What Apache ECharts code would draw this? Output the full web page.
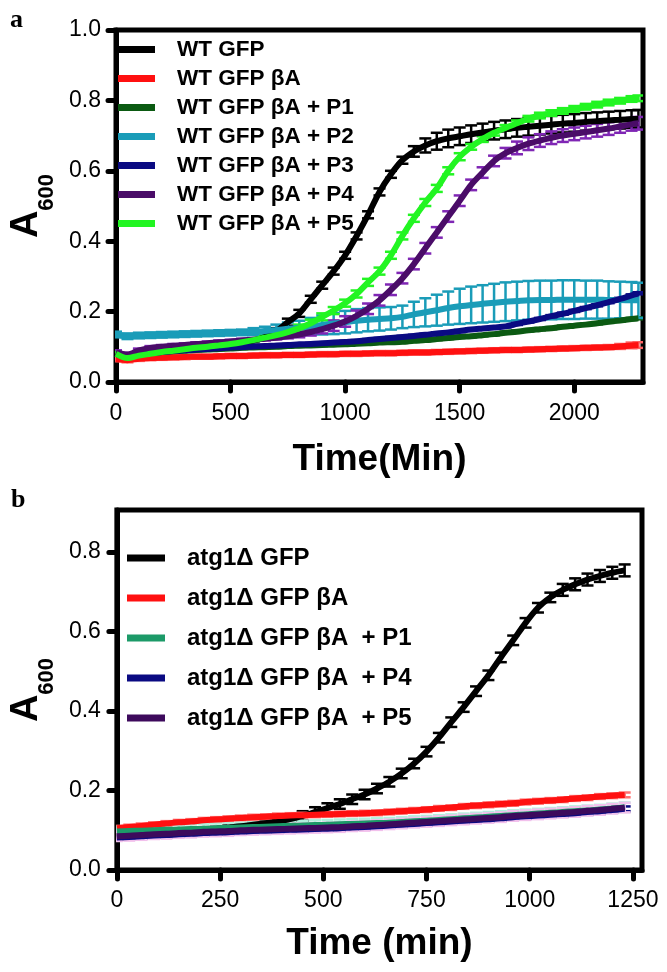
<!DOCTYPE html>
<html>
<head>
<meta charset="utf-8">
<script src="https://cdn.jsdelivr.net/npm/echarts@6/dist/echarts.min.js"></script>
<style>
html,body{margin:0;padding:0;background:#fff;}
#chart{width:667px;height:972px;}
</style>
</head>
<body>
<div id="chart"></div>
<script>
// ---------- Panel a data ----------
const timeA = [0,50,100,150,200,250,300,350,400,450,500,550,600,650,700,750,800,850,900,950,1000,1050,1100,1150,1200,1250,1300,1350,1400,1450,1500,1550,1600,1650,1700,1750,1800,1850,1900,1950,2000,2050,2100,2150,2200,2250,2280];
const namesA = ['WT GFP','WT GFP βA','WT GFP βA + P1','WT GFP βA + P2','WT GFP βA + P3','WT GFP βA + P4','WT GFP βA + P5'];
const wtGFP = [0.080,0.075,0.080,0.085,0.090,0.093,0.096,0.099,0.102,0.105,0.108,0.112,0.118,0.128,0.145,0.170,0.195,0.235,0.275,0.315,0.360,0.415,0.475,0.540,0.590,0.630,0.655,0.672,0.684,0.692,0.698,0.704,0.709,0.714,0.718,0.722,0.725,0.728,0.731,0.734,0.736,0.739,0.741,0.743,0.745,0.747,0.748];
const wtGFPErr = [0.004,0.004,0.004,0.004,0.004,0.004,0.004,0.004,0.004,0.004,0.004,0.004,0.005,0.006,0.008,0.010,0.010,0.010,0.010,0.010,0.010,0.010,0.010,0.010,0.010,0.010,0.015,0.020,0.024,0.025,0.025,0.025,0.025,0.025,0.025,0.025,0.025,0.025,0.025,0.025,0.025,0.025,0.025,0.025,0.025,0.025,0.025];
const wtBA = [0.065,0.062,0.066,0.068,0.069,0.070,0.071,0.072,0.072,0.073,0.074,0.074,0.075,0.076,0.076,0.077,0.077,0.078,0.079,0.079,0.080,0.080,0.081,0.082,0.082,0.083,0.084,0.084,0.085,0.086,0.087,0.088,0.089,0.090,0.091,0.091,0.092,0.093,0.094,0.095,0.096,0.097,0.098,0.099,0.101,0.104,0.105];
const wtBAErr = [0.006,0.006,0.006,0.006,0.006,0.006,0.006,0.006,0.006,0.006,0.006,0.006,0.006,0.006,0.006,0.006,0.006,0.006,0.006,0.006,0.006,0.006,0.006,0.006,0.006,0.006,0.006,0.006,0.006,0.006,0.006,0.006,0.006,0.006,0.006,0.006,0.006,0.006,0.006,0.006,0.006,0.006,0.006,0.006,0.007,0.008,0.008];
const wtP1 = [0.080,0.072,0.078,0.082,0.085,0.087,0.089,0.091,0.092,0.094,0.095,0.097,0.098,0.099,0.100,0.102,0.103,0.104,0.105,0.106,0.107,0.109,0.110,0.112,0.113,0.114,0.117,0.119,0.122,0.125,0.128,0.130,0.133,0.136,0.140,0.143,0.147,0.150,0.153,0.157,0.160,0.163,0.167,0.171,0.175,0.179,0.181];
const wtP1Err = [0.003,0.003,0.003,0.003,0.003,0.003,0.003,0.003,0.003,0.003,0.003,0.003,0.003,0.003,0.003,0.003,0.003,0.003,0.003,0.003,0.003,0.003,0.003,0.003,0.003,0.003,0.003,0.003,0.003,0.003,0.003,0.003,0.003,0.003,0.003,0.003,0.003,0.003,0.003,0.003,0.003,0.003,0.003,0.003,0.003,0.003,0.003];
const wtP2 = [0.135,0.130,0.132,0.133,0.134,0.135,0.136,0.137,0.138,0.139,0.140,0.141,0.143,0.145,0.148,0.151,0.154,0.158,0.162,0.166,0.170,0.174,0.177,0.179,0.181,0.185,0.192,0.198,0.204,0.210,0.215,0.219,0.222,0.225,0.228,0.230,0.232,0.233,0.233,0.234,0.234,0.234,0.234,0.233,0.233,0.232,0.232];
const wtP2Err = [0.008,0.008,0.008,0.008,0.008,0.008,0.008,0.008,0.008,0.008,0.008,0.008,0.010,0.012,0.015,0.018,0.020,0.024,0.027,0.030,0.032,0.033,0.033,0.033,0.032,0.032,0.036,0.040,0.044,0.047,0.050,0.052,0.053,0.054,0.055,0.055,0.055,0.055,0.055,0.055,0.055,0.054,0.054,0.053,0.052,0.052,0.050];
const wtP3 = [0.080,0.072,0.078,0.082,0.085,0.088,0.090,0.092,0.094,0.096,0.098,0.099,0.101,0.102,0.104,0.105,0.107,0.108,0.110,0.112,0.114,0.116,0.119,0.122,0.125,0.128,0.131,0.134,0.138,0.141,0.145,0.149,0.152,0.155,0.158,0.165,0.172,0.179,0.187,0.194,0.202,0.210,0.218,0.227,0.236,0.246,0.252];
const wtP3Err = [0.003,0.003,0.003,0.003,0.003,0.003,0.003,0.003,0.003,0.003,0.003,0.003,0.003,0.003,0.003,0.003,0.003,0.003,0.003,0.003,0.003,0.003,0.003,0.003,0.003,0.003,0.003,0.003,0.003,0.003,0.003,0.003,0.003,0.003,0.003,0.003,0.003,0.003,0.003,0.003,0.003,0.003,0.003,0.003,0.003,0.003,0.003];
const wtP4 = [0.085,0.078,0.090,0.097,0.100,0.103,0.105,0.108,0.110,0.113,0.115,0.118,0.120,0.123,0.126,0.130,0.135,0.142,0.150,0.160,0.172,0.188,0.208,0.232,0.262,0.295,0.335,0.380,0.425,0.470,0.515,0.560,0.595,0.628,0.650,0.665,0.677,0.686,0.694,0.700,0.705,0.710,0.715,0.720,0.726,0.732,0.735];
const wtP4Err = [0.005,0.005,0.005,0.005,0.005,0.005,0.005,0.005,0.005,0.005,0.005,0.005,0.005,0.005,0.005,0.006,0.008,0.010,0.012,0.015,0.015,0.015,0.015,0.015,0.015,0.015,0.015,0.015,0.015,0.015,0.015,0.015,0.015,0.015,0.015,0.018,0.018,0.018,0.018,0.018,0.018,0.018,0.018,0.018,0.018,0.018,0.018];
const wtP5 = [0.080,0.068,0.075,0.080,0.085,0.089,0.093,0.097,0.100,0.104,0.108,0.113,0.119,0.126,0.133,0.142,0.153,0.167,0.185,0.203,0.224,0.250,0.283,0.315,0.360,0.415,0.465,0.510,0.550,0.600,0.640,0.668,0.690,0.708,0.722,0.735,0.748,0.757,0.764,0.770,0.776,0.782,0.788,0.794,0.799,0.804,0.806];
const wtP5Err = [0.005,0.005,0.005,0.005,0.005,0.005,0.005,0.005,0.005,0.005,0.005,0.005,0.005,0.005,0.005,0.010,0.010,0.010,0.010,0.010,0.010,0.010,0.010,0.010,0.010,0.010,0.010,0.010,0.010,0.010,0.010,0.008,0.008,0.008,0.008,0.008,0.008,0.008,0.008,0.008,0.008,0.008,0.008,0.008,0.008,0.008,0.008];
const xTicksA = [0,500,1000,1500,2000];
const yTicksA = [0,0.2,0.4,0.6,0.8,1.0];

// ---------- Panel b data ----------
const timeB = [0,30,60,90,120,150,180,210,240,270,300,330,360,390,420,450,480,510,540,570,600,630,660,690,720,750,780,810,840,870,900,930,960,990,1020,1050,1080,1110,1140,1170,1200,1230];
const namesB = ['atg1Δ GFP','atg1Δ GFP βA','atg1Δ GFP βA  + P1','atg1Δ GFP βA  + P4','atg1Δ GFP βA  + P5'];
const atgGFP = [0.085,0.087,0.089,0.091,0.093,0.096,0.098,0.101,0.104,0.107,0.110,0.114,0.118,0.122,0.128,0.136,0.146,0.156,0.166,0.178,0.190,0.205,0.222,0.243,0.268,0.298,0.333,0.372,0.410,0.450,0.490,0.535,0.578,0.622,0.660,0.686,0.705,0.719,0.731,0.740,0.748,0.754];
const atgGFPErr = [0.005,0.005,0.005,0.005,0.005,0.005,0.005,0.005,0.005,0.005,0.005,0.005,0.005,0.005,0.005,0.012,0.012,0.012,0.012,0.012,0.012,0.012,0.012,0.012,0.012,0.012,0.012,0.012,0.012,0.012,0.012,0.012,0.012,0.012,0.012,0.012,0.015,0.015,0.015,0.015,0.015,0.015];
const atgBA = [0.105,0.108,0.111,0.114,0.117,0.120,0.122,0.125,0.127,0.129,0.131,0.133,0.134,0.136,0.137,0.138,0.139,0.140,0.141,0.142,0.143,0.144,0.146,0.148,0.150,0.152,0.155,0.157,0.160,0.162,0.164,0.166,0.168,0.171,0.173,0.175,0.177,0.180,0.182,0.185,0.187,0.189];
const atgBAErr = [0.006,0.006,0.006,0.006,0.006,0.006,0.006,0.006,0.006,0.006,0.006,0.006,0.006,0.006,0.006,0.006,0.006,0.006,0.006,0.006,0.006,0.006,0.006,0.006,0.006,0.006,0.006,0.006,0.006,0.006,0.006,0.006,0.006,0.006,0.006,0.006,0.006,0.006,0.006,0.006,0.006,0.006];
const atgP1 = [0.097,0.098,0.099,0.100,0.101,0.102,0.103,0.104,0.105,0.106,0.107,0.108,0.109,0.110,0.111,0.112,0.113,0.114,0.115,0.116,0.117,0.118,0.119,0.121,0.123,0.124,0.126,0.128,0.130,0.132,0.134,0.136,0.138,0.140,0.142,0.144,0.146,0.148,0.150,0.152,0.155,0.158];
const atgP1Err = [0.012,0.012,0.012,0.012,0.012,0.012,0.012,0.012,0.012,0.012,0.012,0.012,0.012,0.012,0.012,0.012,0.012,0.012,0.012,0.012,0.012,0.012,0.012,0.012,0.012,0.012,0.012,0.012,0.012,0.012,0.012,0.012,0.012,0.012,0.012,0.012,0.012,0.012,0.012,0.012,0.012,0.012];
const atgP4 = [0.082,0.083,0.085,0.087,0.088,0.090,0.091,0.093,0.094,0.095,0.097,0.098,0.099,0.100,0.101,0.102,0.103,0.104,0.105,0.107,0.108,0.110,0.112,0.114,0.116,0.118,0.120,0.122,0.124,0.126,0.128,0.130,0.133,0.135,0.137,0.139,0.141,0.143,0.146,0.148,0.151,0.154];
const atgP4Err = [0.006,0.006,0.006,0.006,0.006,0.006,0.006,0.006,0.006,0.006,0.006,0.006,0.006,0.006,0.006,0.006,0.006,0.006,0.006,0.006,0.006,0.006,0.006,0.006,0.006,0.006,0.006,0.006,0.006,0.006,0.006,0.006,0.006,0.006,0.006,0.006,0.006,0.006,0.006,0.006,0.006,0.006];
const atgP5 = [0.085,0.086,0.088,0.090,0.091,0.093,0.094,0.096,0.097,0.098,0.100,0.101,0.102,0.103,0.104,0.105,0.106,0.107,0.108,0.110,0.111,0.113,0.115,0.117,0.119,0.121,0.123,0.125,0.127,0.129,0.131,0.133,0.136,0.138,0.140,0.142,0.144,0.146,0.149,0.151,0.154,0.157];
const atgP5Err = [0.012,0.012,0.012,0.012,0.012,0.012,0.012,0.012,0.012,0.012,0.012,0.012,0.012,0.012,0.012,0.012,0.012,0.012,0.012,0.012,0.012,0.012,0.012,0.012,0.012,0.012,0.012,0.012,0.012,0.012,0.012,0.012,0.012,0.012,0.012,0.012,0.012,0.012,0.012,0.012,0.012,0.012];
const xTicksB = [0,250,500,750,1000,1250];
const yTicksB = [0,0.2,0.4,0.6,0.8];

// ---------- styles ----------
const FONT = '"Liberation Sans", Arial, Helvetica, sans-serif';
const colorsA = ['#000000','#ff1010','#0b5a12','#1a9cb8','#0a0a82','#4a0c68','#22f522'];
const errColorsA = ['#000000','#ff6060','#0b5a12','#1a9cb8','#0a0a82','#7f26b4','#22f522'];
const colorsB = ['#000000','#ff1010','#1c9a68','#0a0a82','#3d0a5c'];
const errColorsB = ['#000000','#ff7070','#b0f0dc','#0a0a82','#f2c0ec'];

const seriesA = [wtGFP, wtBA, wtP1, wtP2, wtP3, wtP4, wtP5];
const errA = [wtGFPErr, wtBAErr, wtP1Err, wtP2Err, wtP3Err, wtP4Err, wtP5Err];
const seriesB = [atgGFP, atgBA, atgP1, atgP4, atgP5];
const errB = [atgGFPErr, atgBAErr, atgP1Err, atgP4Err, atgP5Err];

function errorSeries(gi, times, vals, errs, color, capHalf, lw) {
  return {
    type: 'custom', xAxisIndex: gi, yAxisIndex: gi, clip: true, silent: true,
    encode: { x: 0, y: [1, 2] },
    data: times.map((t, i) => [t, vals[i] - errs[i], vals[i] + errs[i]]),
    renderItem: function (params, api) {
      const t = api.value(0);
      const lo = api.coord([t, api.value(1)]);
      const hi = api.coord([t, api.value(2)]);
      const st = { stroke: color, lineWidth: lw };
      return { type: 'group', children: [
        { type: 'line', shape: { x1: lo[0], y1: lo[1], x2: hi[0], y2: hi[1] }, style: st },
        { type: 'line', shape: { x1: hi[0] - capHalf, y1: hi[1], x2: hi[0] + capHalf, y2: hi[1] }, style: st },
        { type: 'line', shape: { x1: lo[0] - capHalf, y1: lo[1], x2: lo[0] + capHalf, y2: lo[1] }, style: st }
      ]};
    }
  };
}

const series = [];
namesA.forEach((n, k) => {
  series.push({
    type: 'line', name: n, xAxisIndex: 0, yAxisIndex: 0,
    data: timeA.map((t, i) => [t, seriesA[k][i]]),
    showSymbol: false, smooth: 0.3,
    lineStyle: { color: colorsA[k], width: 6 }, itemStyle: { color: colorsA[k] }
  });
  series.push(errorSeries(0, timeA, seriesA[k], errA[k], errColorsA[k], 6, 2.5));
});
namesB.forEach((n, k) => {
  series.push({
    type: 'line', name: n, xAxisIndex: 1, yAxisIndex: 1,
    data: timeB.map((t, i) => [t, seriesB[k][i]]),
    showSymbol: false, smooth: 0.3,
    lineStyle: { color: colorsB[k], width: 6 }, itemStyle: { color: colorsB[k] }
  });
  series.push(errorSeries(1, timeB, seriesB[k], errB[k], errColorsB[k], 6, 2.5));
});

function xAxisCfg(gi, max, ticks, name, nameGap, labelMargin) {
  return {
    gridIndex: gi, type: 'value', min: 0, max: max,
    axisLine: { show: true, lineStyle: { color: '#000', width: 5, cap: 'round' } },
    axisTick: { show: true, length: 9, customValues: ticks, lineStyle: { color: '#000', width: 5, cap: 'round' } },
    axisLabel: { customValues: ticks, fontFamily: FONT, fontSize: 23, color: '#000', margin: labelMargin,
      formatter: v => String(v) },
    splitLine: { show: false },
    name: name, nameLocation: 'middle', nameGap: nameGap,
    nameTextStyle: { fontFamily: FONT, fontSize: 37, fontWeight: 'bold', color: '#000' }
  };
}
function yAxisCfg(gi, max, ticks, nameGap, labelMargin) {
  return {
    gridIndex: gi, type: 'value', min: 0, max: max,
    axisLine: { show: true, lineStyle: { color: '#000', width: 5, cap: 'round' } },
    axisTick: { show: true, length: 8, customValues: ticks, lineStyle: { color: '#000', width: 5, cap: 'round' } },
    axisLabel: { customValues: ticks, fontFamily: FONT, fontSize: 23, color: '#000', margin: labelMargin,
      formatter: v => v.toFixed(1) },
    splitLine: { show: false },
    name: '{a|A}{b|600}', nameLocation: 'middle', nameGap: nameGap, nameRotate: 90,
    nameTextStyle: {
      rich: {
        a: { fontFamily: FONT, fontSize: 38, fontWeight: 'bold', color: '#000', verticalAlign: 'top', padding: [0, 0, 12, 0] },
        b: { fontFamily: FONT, fontSize: 22, fontWeight: 'bold', color: '#000', verticalAlign: 'bottom' }
      }
    }
  };
}

const chart = echarts.init(document.getElementById('chart'), null, { renderer: 'canvas' });
chart.setOption({
  animation: false,
  backgroundColor: '#fff',
  title: [
    { text: 'a', left: 5, top: 2, textStyle: { fontFamily: '"Liberation Serif", "Times New Roman", serif', fontSize: 26, fontWeight: 'bold', color: '#000' } },
    { text: 'b', left: 6, top: 482, textStyle: { fontFamily: '"Liberation Serif", "Times New Roman", serif', fontSize: 26, fontWeight: 'bold', color: '#000' } }
  ],
  grid: [
    { left: 113, top: 30, width: 530, height: 352, show: true, borderColor: '#000', borderWidth: 5, backgroundColor: 'transparent' },
    { left: 116, top: 510, width: 526, height: 360, show: true, borderColor: '#000', borderWidth: 5, backgroundColor: 'transparent' }
  ],
  legend: [
    { data: namesA, orient: 'vertical', left: 118, top: 38, icon: 'rect', itemWidth: 37, itemHeight: 7, itemGap: 6,
      selectedMode: false, padding: 0,
      textStyle: { fontFamily: FONT, fontSize: 22.5, fontWeight: 'bold', color: '#000', lineHeight: 20, padding: [0, 0, 0, 17] } },
    { data: namesB, orient: 'vertical', left: 127, top: 546, icon: 'rect', itemWidth: 38, itemHeight: 7, itemGap: 16,
      selectedMode: false, padding: 0,
      textStyle: { fontFamily: FONT, fontSize: 24, fontWeight: 'bold', color: '#000', lineHeight: 22, padding: [0, 0, 0, 17] } }
  ],
  xAxis: [
    xAxisCfg(0, 2300, xTicksA, 'Time(Min)', 59, 20),
    xAxisCfg(1, 1272, xTicksB, 'Time (min)', 55, 19)
  ],
  yAxis: [
    yAxisCfg(0, 1.0, yTicksA, 58, 15),
    yAxisCfg(1, 0.906, yTicksB, 58, 16)
  ],
  series: series
});
</script>
</body>
</html>
